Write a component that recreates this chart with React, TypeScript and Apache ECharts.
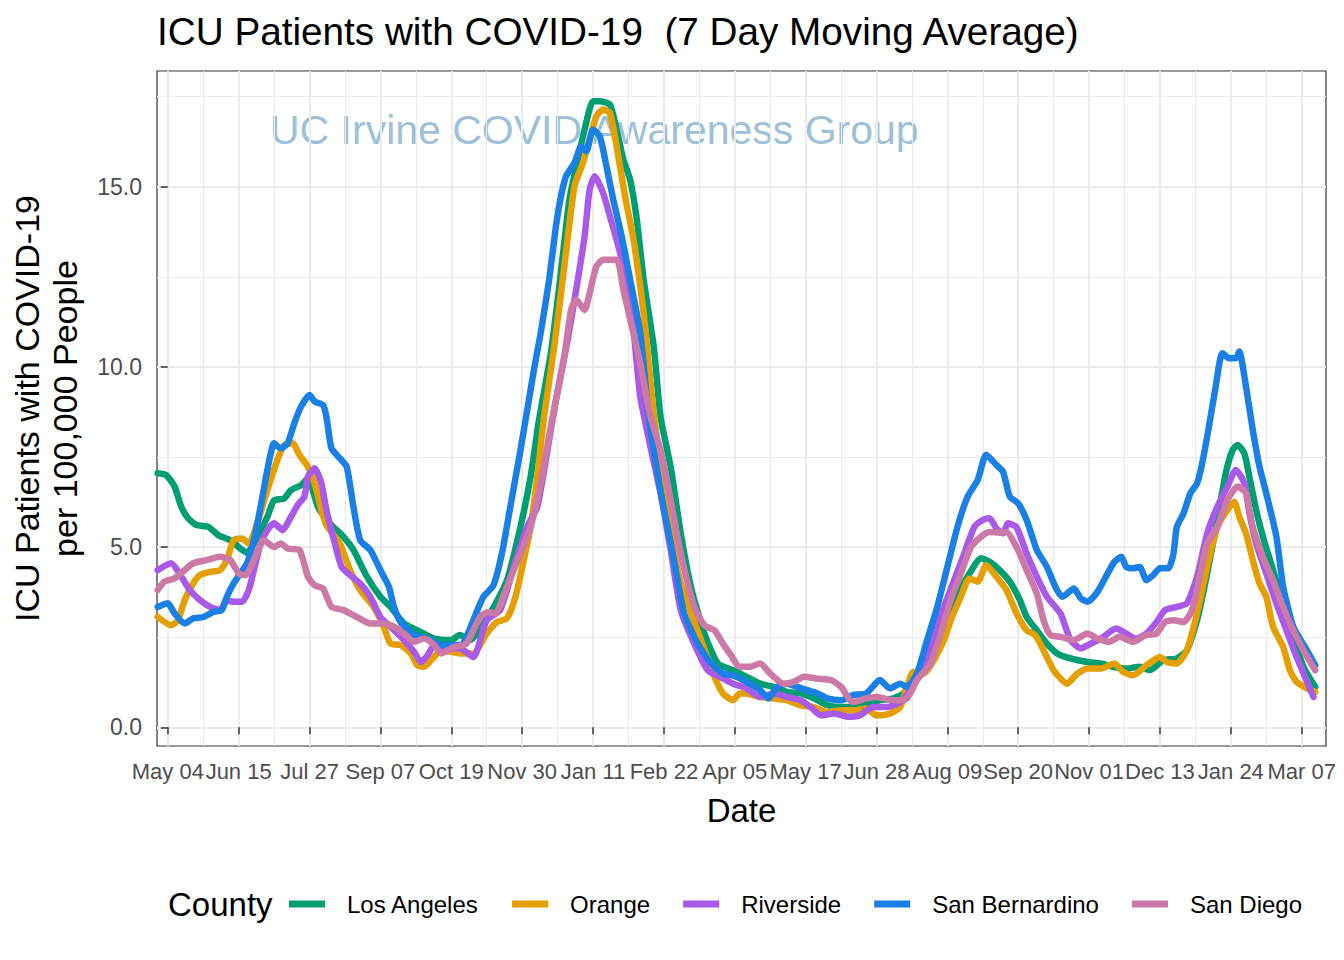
import React, { useEffect, useRef } from "react";
import * as echarts from "echarts";

// Day 0 = 2020-05-04
const X_TICK_DAYS = [0, 42, 84, 126, 168, 210, 252, 294, 336, 378, 420, 462, 504, 546, 588, 630, 672];
const X_TICK_LABELS = ["May 04", "Jun 15", "Jul 27", "Sep 07", "Oct 19", "Nov 30", "Jan 11", "Feb 22", "Apr 05", "May 17", "Jun 28", "Aug 09", "Sep 20", "Nov 01", "Dec 13", "Jan 24", "Mar 07"];
const X_MINOR_DAYS = [21, 63, 105, 147, 189, 231, 273, 315, 357, 399, 441, 483, 525, 567, 609, 651];
const Y_TICKS = [0, 5, 10, 15];
const Y_MINOR = [2.5, 7.5, 12.5, 17.5];

const COUNTIES = ["Los Angeles", "Orange", "Riverside", "San Bernardino", "San Diego"];
const COLORS = ["#009E73", "#E69F00", "#A95AE8", "#1A80E5", "#CC79A7"];

const losAngeles = [[-6,7.05],[-1,7.0],[4,6.68],[8,6.12],[12,5.8],[17,5.61],[24,5.56],[30,5.33],[37,5.19],[42,5.0],[47,4.84],[53,5.29],[59,5.84],[63,6.3],[69,6.35],[73,6.58],[79,6.72],[83,6.9],[89,6.12],[96,5.66],[104,5.29],[110,4.92],[118,4.18],[126,3.62],[132,3.34],[140,2.88],[148,2.69],[158,2.46],[168,2.42],[173,2.56],[179,2.42],[191,3.16],[201,4.08],[209,5.56],[215,6.95],[220,8.53],[227,10.38],[232,12.23],[238,14.64],[243,15.75],[247,16.58],[252,17.37],[256,17.37],[262,17.28],[266,16.58],[270,15.75],[274,15.19],[278,14.08],[282,12.42],[288,10.56],[292,8.62],[298,7.23],[304,5.38],[310,3.9],[318,2.6],[326,1.77],[335,1.58],[343,1.4],[351,1.21],[359,1.12],[367,0.98],[375,0.94],[383,0.8],[391,0.61],[399,0.56],[406,0.56],[414,0.66],[422,0.75],[430,0.8],[436,0.94],[442,1.31],[450,1.95],[458,2.79],[466,3.53],[474,4.18],[482,4.69],[487,4.59],[493,4.36],[499,4.04],[505,3.53],[509,3.06],[515,2.69],[521,2.32],[527,2.05],[535,1.91],[545,1.81],[553,1.77],[560,1.68],[568,1.63],[576,1.68],[582,1.58],[590,1.86],[598,1.91],[604,2.14],[610,2.97],[616,4.27],[622,5.75],[627,7.05],[631,7.69],[634,7.83],[638,7.6],[641,6.95],[645,6.03],[649,5.29],[655,4.36],[661,3.44],[667,2.51],[673,1.68],[680,1.12]];

const orange = [[-6,3.06],[2,2.83],[6,2.97],[10,3.53],[15,3.99],[19,4.22],[25,4.31],[31,4.36],[35,4.64],[39,5.19],[44,5.24],[48,5.1],[53,5.66],[59,6.58],[65,7.42],[69,7.83],[74,7.88],[78,7.56],[83,7.23],[87,6.77],[91,6.03],[94,5.61],[102,5.1],[108,4.36],[114,3.81],[122,3.34],[128,2.79],[132,2.32],[138,2.28],[144,2.05],[148,1.72],[152,1.68],[157,1.91],[162,2.14],[173,2.05],[181,2.05],[189,2.6],[195,2.92],[201,3.02],[206,3.62],[211,4.64],[215,5.56],[219,6.95],[223,8.62],[229,10.56],[235,12.79],[241,15.01],[246,15.66],[250,16.31],[254,16.95],[258,17.14],[262,17.05],[266,16.12],[271,14.73],[276,13.53],[282,11.49],[288,8.71],[296,6.0],[304,4.0],[316,2.42],[324,1.4],[329,0.94],[335,0.75],[339,0.94],[343,0.94],[351,0.84],[359,0.8],[367,0.75],[375,0.61],[383,0.56],[391,0.42],[399,0.47],[406,0.47],[414,0.52],[420,0.33],[428,0.38],[434,0.56],[438,1.12],[442,1.54],[448,1.49],[454,1.86],[460,2.42],[464,2.97],[470,3.62],[475,4.13],[480,4.04],[485,4.5],[491,4.18],[497,3.81],[503,3.16],[509,2.69],[514,2.56],[519,2.14],[525,1.58],[533,1.21],[539,1.49],[545,1.63],[553,1.63],[561,1.77],[566,1.54],[572,1.44],[580,1.72],[588,1.95],[592,1.81],[598,1.77],[604,2.14],[610,3.16],[616,4.45],[622,5.56],[628,6.03],[632,6.26],[635,5.84],[639,5.38],[643,4.64],[647,3.99],[651,3.62],[655,2.79],[661,2.23],[665,1.58],[669,1.26],[677,1.03],[680,0.98]];

const riverside = [[-6,4.36],[2,4.55],[8,4.18],[13,3.81],[19,3.53],[25,3.34],[31,3.25],[35,3.53],[39,3.48],[44,3.48],[48,3.81],[51,4.36],[55,5.1],[59,5.47],[63,5.66],[68,5.47],[73,5.84],[77,6.17],[81,6.4],[83,6.95],[87,7.19],[91,6.77],[94,6.03],[99,5.1],[103,4.45],[108,4.22],[114,3.99],[120,3.62],[126,3.06],[132,2.79],[140,2.42],[146,2.09],[150,1.81],[154,2.0],[158,2.28],[168,2.19],[173,2.19],[181,1.95],[189,2.97],[197,3.25],[205,4.45],[213,5.56],[219,6.12],[225,7.69],[230,9.08],[237,10.75],[243,12.42],[247,13.62],[250,14.92],[253,15.29],[258,14.82],[262,14.18],[266,13.53],[271,12.6],[275,11.49],[280,9.18],[286,7.79],[292,6.49],[298,4.92],[304,3.25],[312,2.32],[320,1.58],[327,1.4],[335,1.21],[343,1.08],[351,0.84],[359,0.94],[367,0.84],[375,0.75],[381,0.56],[387,0.33],[395,0.38],[403,0.29],[410,0.33],[418,0.56],[426,0.56],[434,0.7],[440,1.03],[448,1.68],[454,2.6],[460,3.34],[466,4.08],[472,4.82],[478,5.56],[483,5.75],[487,5.8],[491,5.52],[495,5.38],[498,5.66],[503,5.55],[509,4.82],[515,4.18],[521,3.62],[529,3.16],[535,2.42],[541,2.19],[547,2.32],[553,2.46],[562,2.74],[568,2.6],[574,2.46],[580,2.6],[586,2.92],[591,3.25],[598,3.34],[604,3.44],[610,4.18],[616,5.38],[622,6.12],[628,6.68],[633,7.14],[638,6.77],[641,5.94],[645,5.1],[651,4.27],[657,3.44],[663,2.69],[669,1.95],[679,0.84]];

const sanBernardino = [[-6,3.34],[0,3.44],[4,3.16],[10,2.88],[15,3.02],[21,3.06],[27,3.2],[32,3.25],[35,3.62],[39,3.99],[43,4.27],[47,4.55],[51,5.19],[55,6.12],[59,7.14],[63,7.88],[67,7.74],[71,7.88],[75,8.44],[79,8.9],[84,9.22],[87,9.04],[92,8.94],[94,8.62],[97,7.74],[102,7.46],[106,7.23],[110,6.12],[114,5.19],[120,4.92],[126,4.36],[131,3.9],[134,3.34],[138,2.92],[146,2.56],[154,2.46],[162,2.28],[170,2.28],[175,2.32],[181,2.97],[187,3.62],[193,3.94],[198,4.82],[203,6.12],[209,7.69],[214,9.08],[217,9.92],[221,10.94],[226,12.42],[230,13.9],[233,14.73],[236,15.29],[241,15.66],[245,16.12],[248,15.98],[252,16.58],[256,16.4],[260,15.56],[264,14.64],[269,13.62],[274,12.42],[280,10.94],[285,8.62],[288,7.69],[293,6.31],[300,4.64],[306,3.16],[314,2.32],[322,1.77],[329,1.49],[335,1.44],[343,1.26],[351,1.03],[356,0.8],[361,1.12],[367,1.21],[373,1.12],[379,1.03],[385,0.94],[391,0.8],[399,0.75],[406,0.89],[414,0.94],[422,1.31],[428,1.08],[434,1.21],[438,1.12],[444,1.49],[450,2.42],[456,3.34],[462,4.45],[468,5.56],[474,6.4],[480,6.86],[485,7.56],[491,7.28],[495,7.09],[499,6.4],[504,6.21],[509,5.75],[515,4.92],[521,4.45],[526,3.9],[530,3.62],[537,3.85],[541,3.58],[545,3.48],[551,3.76],[557,4.27],[561,4.59],[565,4.73],[568,4.45],[572,4.41],[576,4.45],[580,4.08],[584,4.22],[588,4.41],[593,4.41],[596,4.82],[598,5.56],[602,5.94],[606,6.49],[610,6.77],[613,7.32],[617,8.34],[621,9.45],[625,10.38],[629,10.24],[633,10.24],[635,10.43],[639,9.45],[643,8.25],[647,7.23],[651,6.49],[657,5.29],[661,3.9],[667,2.79],[675,2.14],[680,1.72]];

const sanDiego = [[-6,3.81],[-2,4.04],[4,4.13],[10,4.36],[15,4.55],[23,4.64],[31,4.73],[37,4.64],[42,4.27],[46,4.22],[51,4.64],[57,5.19],[63,5.0],[67,5.1],[71,4.96],[78,4.92],[83,4.18],[87,3.94],[92,3.85],[97,3.34],[104,3.25],[112,3.06],[120,2.88],[128,2.88],[134,2.79],[140,2.6],[146,2.37],[152,2.46],[158,2.28],[162,2.05],[170,2.23],[177,2.32],[185,3.06],[190,3.2],[194,3.16],[201,3.9],[209,4.82],[215,5.56],[221,6.77],[227,8.34],[235,10.29],[239,11.58],[242,11.86],[247,11.58],[250,12.05],[254,12.79],[258,12.97],[266,12.97],[270,12.14],[275,11.12],[280,10.1],[286,8.62],[292,7.69],[298,6.31],[304,4.82],[312,3.34],[318,2.83],[324,2.69],[329,2.32],[333,2.05],[339,1.68],[345,1.68],[351,1.77],[357,1.49],[365,1.21],[371,1.26],[377,1.4],[385,1.35],[393,1.31],[399,1.12],[406,0.7],[414,0.8],[420,0.84],[430,0.75],[438,0.8],[444,1.31],[452,1.77],[458,2.6],[464,3.53],[470,4.27],[476,5.0],[482,5.29],[487,5.42],[493,5.4],[497,5.42],[503,5.0],[509,4.36],[515,3.71],[519,2.97],[523,2.56],[529,2.51],[537,2.42],[545,2.6],[551,2.46],[558,2.37],[564,2.51],[572,2.37],[580,2.56],[586,2.6],[591,2.92],[596,2.97],[602,2.92],[607,3.25],[612,4.27],[616,5.1],[622,5.56],[628,6.31],[634,6.68],[639,6.49],[643,5.56],[649,4.73],[655,4.08],[661,3.34],[667,2.69],[673,2.14],[680,1.58]];

const SERIES_DATA = [losAngeles, orange, riverside, sanBernardino, sanDiego];

const FONT = "'Liberation Sans', Arial, sans-serif";
const X_MIN = -6.4;
const X_MAX = 686.4;
const Y_MIN = -0.52;
const Y_MAX = 18.21;

export default function App() {
  const ref = useRef<HTMLDivElement>(null);
  useEffect(() => {
    if (!ref.current) return;
    const chart = echarts.init(ref.current, undefined, { renderer: "svg" });
    const option: any = {
      animation: false,
      backgroundColor: "#ffffff",
      textStyle: { fontFamily: FONT },
      grid: { left: 156, right: 18, top: 71, bottom: 214, show: true, borderColor: "#333333", borderWidth: 1.2, backgroundColor: "transparent" },
      xAxis: [
        {
          type: "value", min: X_MIN, max: X_MAX, position: "bottom",
          axisLine: { show: false },
          axisTick: { show: true, customValues: X_TICK_DAYS, length: 7, lineStyle: { color: "#333333", width: 1.5 } },
          axisLabel: {
            customValues: X_TICK_DAYS, color: "#4D4D4D", fontSize: 22, margin: 14, fontFamily: FONT,
            formatter: (v: number) => { const i = X_TICK_DAYS.indexOf(Math.round(v)); return i >= 0 ? X_TICK_LABELS[i] : ""; },
          },
          splitLine: { show: true, lineStyle: { color: "#EBEBEB", width: 2 } },
          name: "Date", nameLocation: "middle", nameGap: 48,
          nameTextStyle: { fontSize: 33, color: "#000000", fontFamily: FONT },
        },
        {
          type: "value", min: X_MIN, max: X_MAX, position: "top",
          axisLine: { show: false },
          axisTick: { show: false, customValues: X_MINOR_DAYS },
          axisLabel: { show: false, customValues: X_MINOR_DAYS },
          splitLine: { show: true, lineStyle: { color: "#EBEBEB", width: 1 } },
        },
      ],
      yAxis: [
        {
          type: "value", min: Y_MIN, max: Y_MAX, position: "left",
          axisLine: { show: false },
          axisTick: { show: true, customValues: Y_TICKS, length: 7, lineStyle: { color: "#333333", width: 1.5 } },
          axisLabel: { customValues: Y_TICKS, color: "#4D4D4D", fontSize: 23, margin: 15, fontFamily: FONT, formatter: (v: number) => v.toFixed(1) },
          splitLine: { show: true, lineStyle: { color: "#EBEBEB", width: 2 } },
          name: "ICU Patients with COVID-19\nper 100,000 People", nameLocation: "middle", nameGap: 73, nameRotate: 90,
          nameTextStyle: { fontSize: 34, color: "#000000", lineHeight: 38, fontFamily: FONT },
        },
        {
          type: "value", min: Y_MIN, max: Y_MAX, position: "right",
          axisLine: { show: false },
          axisTick: { show: false, customValues: Y_MINOR },
          axisLabel: { show: false, customValues: Y_MINOR },
          splitLine: { show: true, lineStyle: { color: "#EBEBEB", width: 1 } },
        },
      ],
      legend: {
        data: COUNTIES, left: 284, top: 887, icon: "rect", itemWidth: 36, itemHeight: 7, itemGap: 33,
        textStyle: { fontSize: 24, color: "#000000", fontFamily: FONT, padding: [0, 0, 0, 17] },
      },
      graphic: [
        { type: "text", x: 157, y: 31, style: { text: "ICU Patients with COVID-19  (7 Day Moving Average)", fill: "#000000", font: `38.7px ${FONT}`, align: "left", verticalAlign: "middle" } },
        { type: "text", x: 270, y: 130, z: 0, style: { text: "UC Irvine COVID Awareness Group", fill: "#9CC1D9", font: `41px ${FONT}`, align: "left", verticalAlign: "middle" } },
        { type: "text", x: 168, y: 904, style: { text: "County", fill: "#000000", font: `33px ${FONT}`, align: "left", verticalAlign: "middle" } },
      ],
      series: COUNTIES.map((name, i) => ({
        name, type: "line", xAxisIndex: 0, yAxisIndex: 0, data: SERIES_DATA[i],
        showSymbol: false, smooth: 0.2, color: COLORS[i], z: 3,
        lineStyle: { width: 6.5, color: COLORS[i], cap: "round", join: "round" },
      })),
    };
    chart.setOption(option);
    return () => chart.dispose();
  }, []);
  return <div ref={ref} style={{ position: "fixed", left: 0, top: 0, width: 1344, height: 960 }} />;
}
